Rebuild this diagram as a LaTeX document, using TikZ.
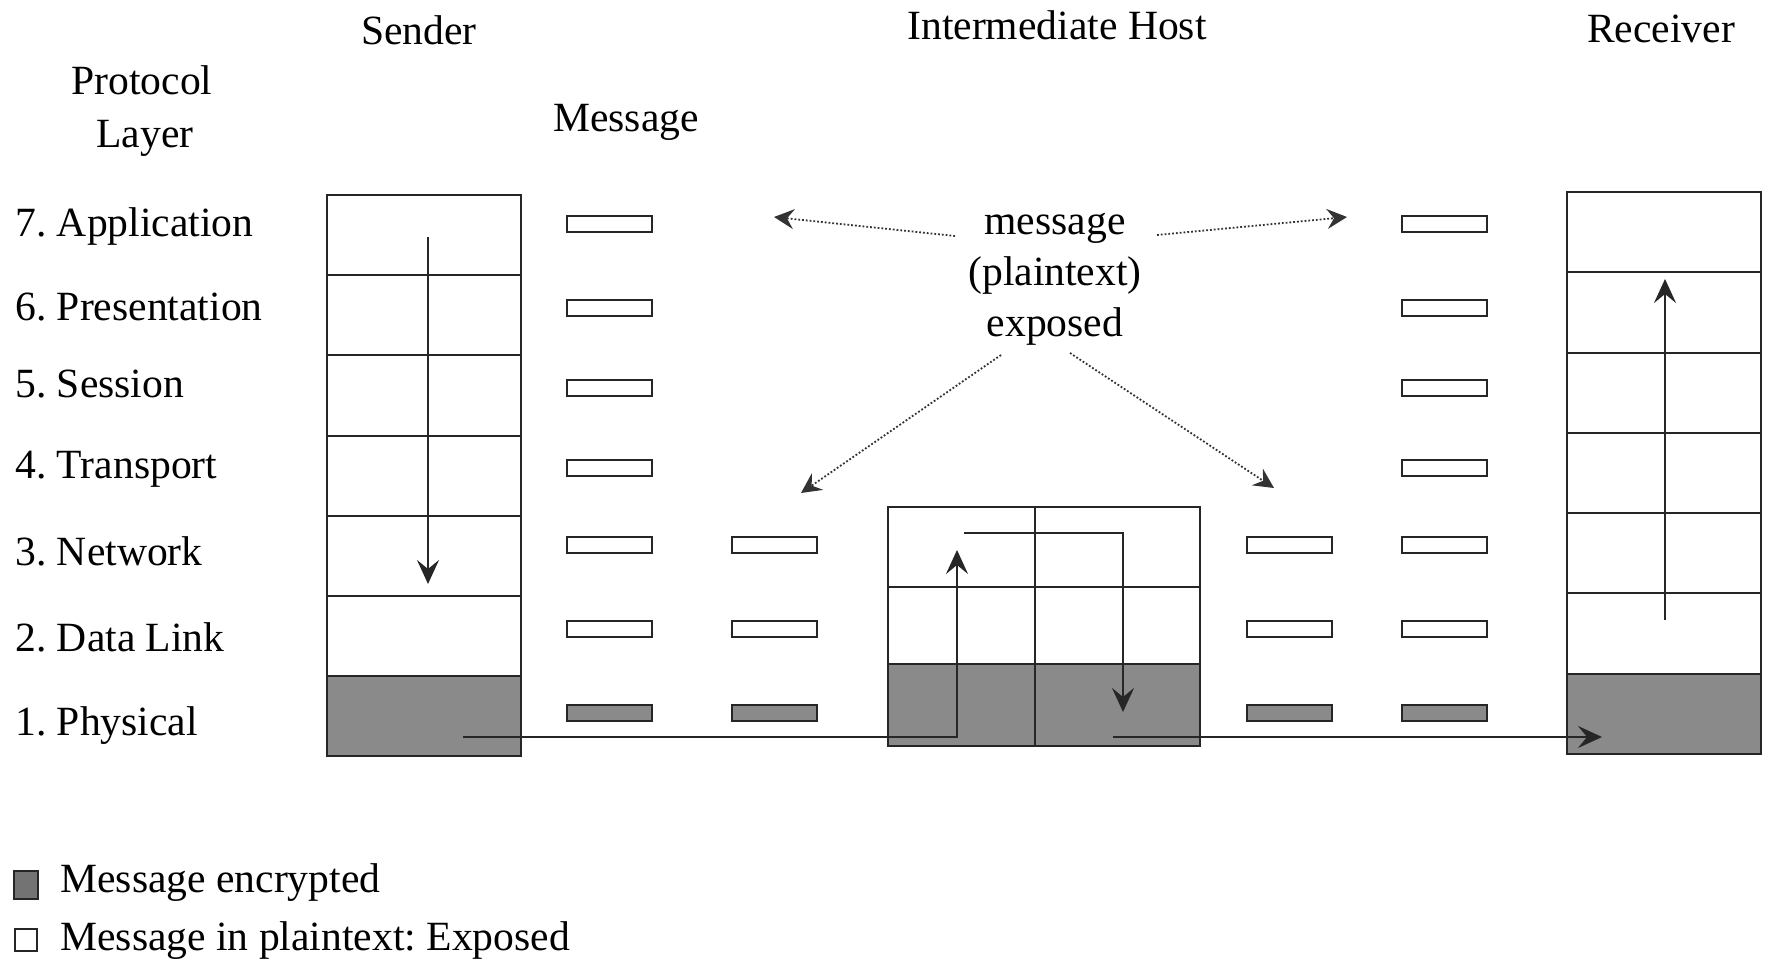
\documentclass[tikz,border=0pt]{standalone}
\usepackage{fontspec}
\setmainfont{Liberation Serif}
\usetikzlibrary{arrows.meta}
\begin{document}
\begin{tikzpicture}[x=0.5pt,y=-0.5pt,
  font=\fontsize{20.8}{25.5}\selectfont\frenchspacing,
  cell/.style={draw=black!85, line width=1pt, inner sep=0pt, minimum width=97pt, minimum height=40.1pt},
  rcell/.style={cell, minimum height=40.15pt},
  enc/.style={fill=black!46},
  msg/.style={draw=black!85, line width=1.2pt, fill=white, inner sep=0pt, minimum width=42.5pt, minimum height=8pt},
  emsg/.style={msg, fill=black!46},
  flow/.style={draw=black!85, line width=1pt, -{Stealth[length=12pt,width=11pt,inset=4.5pt]}},
  dotarrow/.style={draw=black!80, line width=0.9pt, densely dotted, -{Stealth[length=10pt,width=10pt,inset=3.5pt]}},
  lbl/.style={inner sep=0pt, anchor=base},
  layerlbl/.style={inner sep=0pt, anchor=base west},
  legbox/.style={draw=black!85, line width=0.8pt, inner sep=0pt}
]
\useasboundingbox (0,0) rectangle (1771,961);
\fill[white] (0,0) rectangle (1771,961);

% headings
\node[lbl] (hsender) at (419,45) {Sender};
\node[lbl] (hinter) at (1057,40) {Intermediate Host};
\node[lbl] (hrecv) at (1661,43) {Receiver};
\node[lbl] (hprot) at (142,95) {Protocol};
\node[lbl] (hlayer) at (145,148) {Layer};
\node[lbl] (hmsg) at (626,132) {Message};

% layer labels
\node[layerlbl] (l7) at (15,237) {7. Application};
\node[layerlbl] (l6) at (15,321) {6. Presentation};
\node[layerlbl] (l5) at (15,398) {5. Session};
\node[layerlbl] (l4) at (15,479) {4. Transport};
\node[layerlbl] (l3) at (15,566) {3. Network};
\node[layerlbl] (l2) at (15,652) {2. Data Link};
\node[layerlbl] (l1) at (15,735) {1. Physical};

% sender stack
\foreach \i/\y in {7/235.1,6/315.3,5/395.5,4/475.7,3/555.9,2/636.1}
  \node[cell] (s\i) at (424,\y) {};
\node[cell,enc] (s1) at (424,716.3) {};

% receiver stack
\foreach \i/\y in {7/232.15,6/312.45,5/392.75,4/473.05,3/553.35,2/633.65}
  \node[rcell] (r\i) at (1664,\y) {};
\node[rcell,enc] (r1) at (1664,713.95) {};

% intermediate host
\node[cell, minimum width=73.5pt, minimum height=40pt] (ia3) at (961.5,547) {};
\node[cell, minimum width=82.5pt, minimum height=40pt] (ib3) at (1117.5,547) {};
\node[cell, minimum width=73.5pt, minimum height=38.5pt] (ia2) at (961.5,625.5) {};
\node[cell, minimum width=82.5pt, minimum height=38.5pt] (ib2) at (1117.5,625.5) {};
\node[cell, enc, minimum width=73.5pt, minimum height=41pt] (ia1) at (961.5,705) {};
\node[cell, enc, minimum width=82.5pt, minimum height=41pt] (ib1) at (1117.5,705) {};

% message bars
\foreach \i/\y in {7/224,6/308,5/388,4/468,3/545,2/629}{
  \node[msg] (ma\i) at (609.5,\y) {};
  \node[msg] (md\i) at (1444.5,\y) {};
}
\node[emsg] (ma1) at (609.5,713) {};
\node[emsg] (md1) at (1444.5,713) {};
\foreach \i/\y in {3/545,2/629}{
  \node[msg] (mb\i) at (774.5,\y) {};
  \node[msg] (mc\i) at (1289.5,\y) {};
}
\node[emsg] (mb1) at (774.5,713) {};
\node[emsg] (mc1) at (1289.5,713) {};

% flow arrows
\coordinate (sA) at (428,237);
\coordinate (sB) at (428,584);
\draw[flow] (sA) -- (sB);
\coordinate (p0) at (463,737);
\coordinate (iUp) at (957,550);
\draw[flow] (p0) -| (iUp);
\coordinate (iA) at (964,533);
\coordinate (iB) at (1123,712);
\draw[flow] (iA) -| (iB);
\coordinate (iC) at (1113,737);
\coordinate (rIn) at (1602,737);
\draw[flow] (iC) -- (rIn);
\coordinate (rA) at (1665,620);
\coordinate (rB) at (1665,279);
\draw[flow] (rA) -- (rB);

% exposed note (base anchor = last line baseline)
\node[align=center, inner sep=0pt, anchor=base] (note) at (1055,337) {message\\(plaintext)\\exposed};
\coordinate (nL) at (955,236);
\coordinate (tL) at (774,217);
\coordinate (nR) at (1157,235);
\coordinate (tR) at (1347,217);
\coordinate (nDL) at (1001,355);
\coordinate (tDL) at (801,493);
\coordinate (nDR) at (1070,353);
\coordinate (tDR) at (1274,488);
\draw[dotarrow] (nL) -- (tL);
\draw[dotarrow] (nR) -- (tR);
\draw[dotarrow] (nDL) -- (tDL);
\draw[dotarrow] (nDR) -- (tDR);

% legend
\node[legbox, fill=black!55, minimum width=12pt, minimum height=14pt] (legenc) at (26,885) {};
\node[legbox, fill=white, minimum width=11pt, minimum height=11pt] (legpl) at (26,940) {};
\node[layerlbl] (legenct) at (60,892) {Message encrypted};
\node[layerlbl] (legplt) at (60,950) {Message in plaintext: Exposed};
\end{tikzpicture}
\end{document}
